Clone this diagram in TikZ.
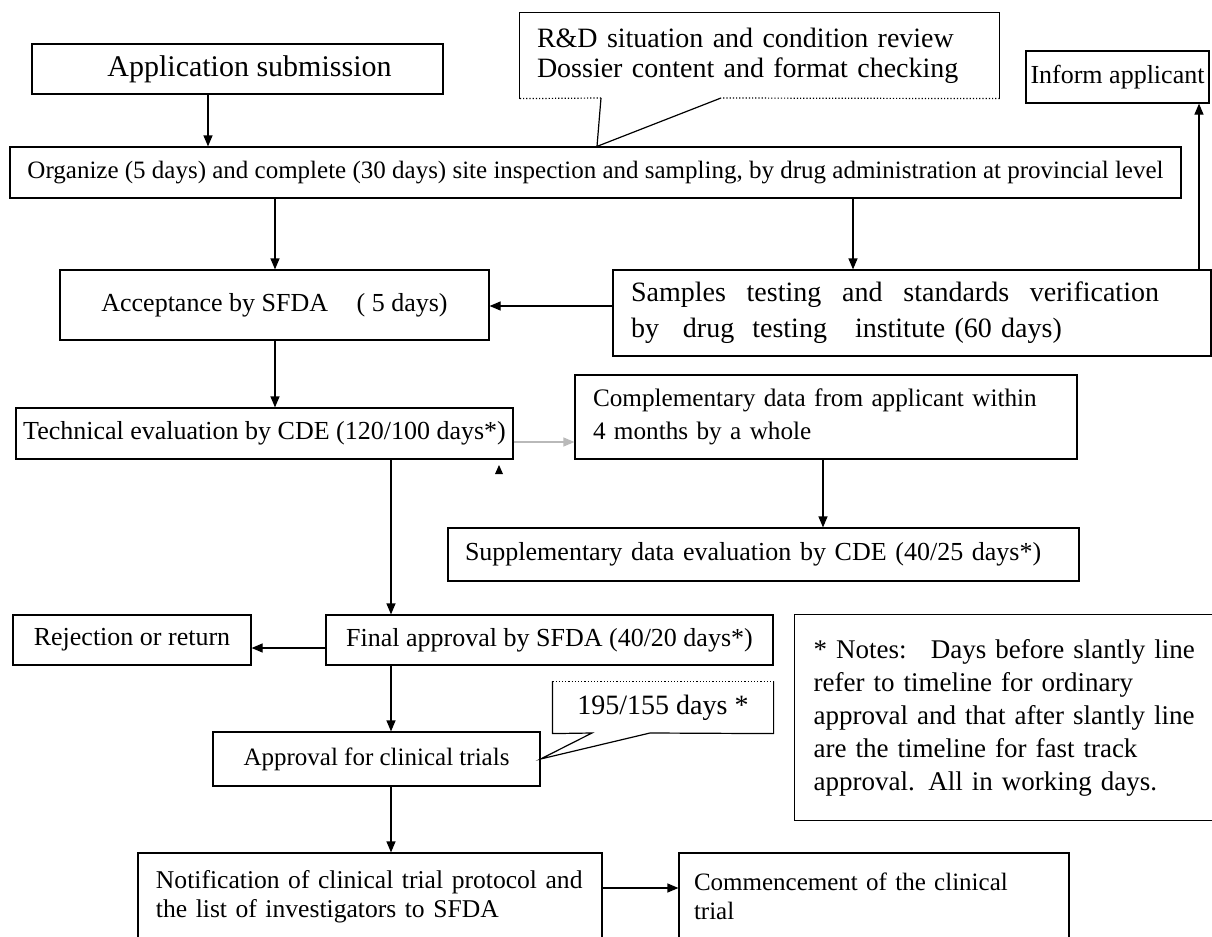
\documentclass[tikz,border=0pt]{standalone}
\usepackage{fontspec}
\setmainfont{Liberation Serif}
\usetikzlibrary{arrows.meta,calc}

\begin{document}
\begin{tikzpicture}[x=0.5pt, y=-0.5pt, line width=0.6pt,
  >={Triangle[length=5.5pt,width=4.5pt]},
  procbox/.style={draw, inner sep=0pt, align=center, font=\fontsize{13}{16}\selectfont},
  textbox/.style={draw, inner ysep=0pt, align=left},
  flow/.style={->}]
\useasboundingbox (0,0) rectangle (1212,937);

% positions of the connectors
\coordinate (xa) at (208,0);
\coordinate (xb) at (275,0);
\coordinate (xc) at (853,0);
\coordinate (xd) at (1199,0);
\coordinate (xe) at (391,0);
\coordinate (xf) at (823,0);
\coordinate (ya) at (0,306);
\coordinate (yb) at (0,442);
\coordinate (yc) at (0,648);
\coordinate (yd) at (0,888);

% top row
\node[procbox, minimum width=205.5pt, minimum height=25pt, font=\fontsize{15}{16}\selectfont] (app) at (237.5,69) {\hspace{12pt}Application submission};
\node[inner ysep=0pt, inner xsep=8.5pt, text width=222.5pt, minimum height=42.5pt, align=left, font=\fontsize{14}{15}\selectfont] (rnd) at (759.5,55.5) {R\&D situation and condition review\\Dossier content and format checking};
\node[procbox, minimum width=91.5pt, minimum height=26pt] (inf) at (1117.5,77) {Inform applicant};
\node[procbox, minimum width=585.5pt, minimum height=25.5pt, font=\fontsize{12.5}{14}\selectfont] (org) at (595.5,172.5) {Organize (5 days) and complete (30 days) site inspection and sampling, by drug administration at provincial level};

% callout of the review
\coordinate (rndL) at (601,98);
\coordinate (rndR) at (721,98);
\coordinate (rndtip) at ([xshift=0.75pt]org.north);
\draw (rnd.south west) -- (rnd.north west) -- (rnd.north east) -- (rnd.south east);
\draw[densely dotted] (rnd.south east) -- (rndR) (rndL) -- (rnd.south west);
\draw (rndR) -- (rndtip) -- (rndL);

% acceptance and testing
\node[procbox, minimum width=214.5pt, minimum height=35pt] (acc) at (274.5,305) {Acceptance by SFDA\hspace{1.1em}( 5 days)};
\node[textbox, inner xsep=9pt, text width=281pt, minimum height=43pt, font=\fontsize{14}{18}\selectfont] (smp) at (912,313) {\makebox[264pt][l]{Samples\hfill testing\hfill and\hfill standards\hfill verification}\\by\hspace{12pt}drug\hspace{9pt}testing\hspace{14pt}institute (60 days)};

% evaluation
\node[procbox, minimum width=248.5pt, minimum height=25.5pt] (tech) at (264.5,433.5) {Technical evaluation by CDE (120/100 days*)};
\node[textbox, inner xsep=9pt, text width=233pt, minimum height=42pt, font=\fontsize{12.6}{16.5}\selectfont] (cmp) at (826,417) {Complementary data from applicant within\\4 months by a whole};
\node[textbox, inner xsep=8.5pt, text width=298.5pt, minimum height=26.5pt, font=\fontsize{13}{15}\selectfont] (sup) at (763.5,554.5) {Supplementary data evaluation by CDE (40/25 days*)};

% approval
\node[procbox, minimum width=119pt, minimum height=25pt] (rej) at (132,640) {Rejection or return};
\node[procbox, minimum width=223.5pt, minimum height=25pt] (fin) at (549.5,640) {Final approval by SFDA (40/20 days*)};
\node[textbox, anchor=north west, inner xsep=9.5pt, text width=200pt, minimum height=103pt, font=\fontsize{13.5}{16.5}\selectfont] (nts) at (794,614) {* Notes:\hspace{0.9em}Days before slantly line\\refer to timeline for ordinary\\approval and that after slantly line\\are the timeline for fast track\\approval. All in working days.};
\node[procbox, minimum width=163.5pt, minimum height=27pt, font=\fontsize{12.5}{15}\selectfont] (apv) at (376.5,759) {Approval for clinical trials};
\node[inner sep=0pt, minimum width=110pt, minimum height=25.5pt, font=\fontsize{14}{16}\selectfont] (dcl) at (663,707.5) {195/155 days *};

% callout of the days
\coordinate (dclL) at (592,733);
\coordinate (dclR) at (650,733);
\draw[densely dotted] (dcl.north west) -- (dcl.north east);
\draw (dcl.north east) -- (dcl.south east) -- (dclR) -- (apv.east) -- (dclL) -- (dcl.south west) -- (dcl.north west);

% bottom row
\node[textbox, inner xsep=5pt, text width=222pt, minimum height=43.5pt, font=\fontsize{12.8}{14.5}\selectfont] (ntf) at (370,896.5) {\hspace{4pt}Notification of clinical trial protocol and\\\hspace{4pt}the list of investigators to SFDA};
\node[textbox, inner xsep=7.5pt, text width=180pt, minimum height=43.5pt, font=\fontsize{12.5}{14.5}\selectfont] (cmc) at (874,896.5) {Commencement of the clinical\\trial};

% connectors
\draw[flow] (app.south -| xa) -- (org.north -| xa);
\draw[flow] (org.south -| xb) -- (acc.north -| xb);
\draw[flow] (org.south -| xc) -- (smp.north -| xc);
\draw[flow] (smp.west |- ya) -- (acc.east |- ya);
\draw[flow] (smp.north -| xd) -- (inf.south -| xd);
\draw[flow] (acc.south -| xb) -- (tech.north -| xb);
\draw[flow, gray!55] (tech.east |- yb) -- (cmp.west |- yb);
\draw[flow] (cmp.south -| xf) -- (sup.north -| xf);
\draw[flow] (tech.south -| xe) -- (fin.north -| xe);
\draw[flow] (fin.west |- yc) -- (rej.east |- yc);
\draw[flow] (fin.south -| xe) -- (apv.north -| xe);
\draw[flow] (apv.south -| xe) -- (ntf.north -| xe);
\draw[flow] (ntf.east |- yd) -- (cmc.west |- yd);
\fill (495,474) -- (503,474) -- (499,465) -- cycle;
\end{tikzpicture}
\end{document}
